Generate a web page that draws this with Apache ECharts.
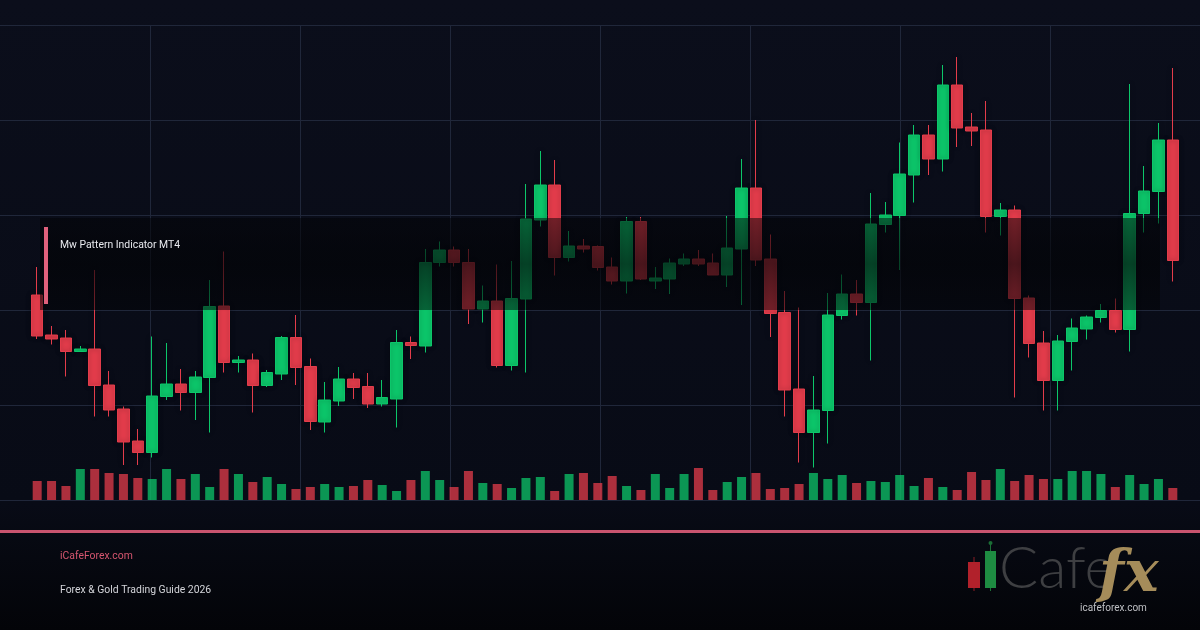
<!DOCTYPE html>
<html>
<head>
<meta charset="utf-8">
<title>Mw Pattern Indicator MT4</title>
<script src="https://cdn.jsdelivr.net/npm/echarts@6/dist/echarts.min.js"></script>
<style>
  html, body { margin: 0; padding: 0; background: #05070d; }
  #chart { width: 1200px; height: 630px; }
</style>
</head>
<body>
<div id="chart"></div>
<script>
// candle values (one entry per bar, left to right)
const opens = [
  1941.0, 1933.0, 1932.4, 1929.7, 1930.2, 1923.0, 1918.2, 1911.8, 1909.5, 1920.7,
  1923.2, 1921.5, 1924.5, 1938.8, 1927.5, 1928.0, 1922.9, 1925.2, 1932.5, 1926.7,
  1915.6, 1919.8, 1924.2, 1922.7, 1919.2, 1920.2, 1931.5, 1930.8, 1947.5, 1950.0,
  1947.5, 1938.2, 1939.8, 1926.9, 1940.2, 1956.0, 1963.0, 1948.5, 1950.8, 1950.7,
  1946.6, 1943.8, 1955.7, 1943.8, 1944.2, 1947.2, 1948.2, 1947.4, 1945.0, 1950.2,
  1962.4, 1948.2, 1937.5, 1922.2, 1913.5, 1917.9, 1936.9, 1941.2, 1939.5, 1955.1,
  1956.9, 1965.0, 1973.0, 1968.2, 1983.0, 1974.6, 1974.0, 1956.7, 1958.0, 1940.4,
  1931.4, 1923.9, 1931.7, 1934.2, 1936.5, 1937.9, 1934.1, 1957.3, 1961.7, 1972.0
]
const closes = [
  1932.8, 1932.2, 1929.7, 1930.2, 1922.9, 1918.0, 1911.6, 1909.5, 1920.8, 1923.2,
  1921.5, 1924.6, 1938.7, 1927.5, 1928.0, 1922.9, 1925.5, 1932.5, 1926.5, 1915.7,
  1920.0, 1924.2, 1922.5, 1919.2, 1920.5, 1931.5, 1930.9, 1947.5, 1950.0, 1947.5,
  1938.2, 1939.8, 1926.9, 1940.3, 1956.2, 1963.0, 1948.5, 1950.8, 1950.2, 1946.5,
  1943.8, 1955.7, 1944.2, 1944.4, 1947.4, 1948.2, 1947.2, 1945.0, 1950.4, 1962.4,
  1948.0, 1937.3, 1922.0, 1913.5, 1918.0, 1937.0, 1941.2, 1939.5, 1955.2, 1957.0,
  1965.2, 1973.0, 1968.2, 1983.0, 1974.4, 1973.8, 1956.7, 1958.0, 1940.3, 1931.3,
  1923.9, 1931.8, 1934.4, 1936.6, 1937.9, 1934.1, 1957.3, 1961.8, 1972.0, 1947.9
]
const lows = [
  1932.2, 1931.1, 1924.7, 1929.6, 1916.7, 1916.7, 1907.0, 1907.0, 1908.5, 1920.0,
  1917.9, 1916.0, 1913.5, 1925.5, 1925.5, 1917.5, 1922.6, 1924.0, 1923.0, 1914.0,
  1913.5, 1918.8, 1920.2, 1918.4, 1918.7, 1914.5, 1928.2, 1929.5, 1946.7, 1946.7,
  1935.2, 1935.5, 1926.5, 1925.9, 1925.5, 1954.7, 1944.9, 1947.7, 1949.5, 1945.9,
  1943.1, 1941.3, 1944.0, 1942.2, 1941.2, 1946.8, 1946.8, 1945.0, 1942.6, 1939.0,
  1946.8, 1932.6, 1916.7, 1907.5, 1906.5, 1911.3, 1936.1, 1936.9, 1927.9, 1953.5,
  1946.0, 1959.5, 1965.0, 1965.7, 1970.6, 1970.8, 1953.5, 1952.9, 1920.5, 1928.5,
  1917.9, 1917.9, 1925.9, 1932.1, 1935.5, 1933.5, 1929.7, 1953.5, 1955.3, 1943.7
]
const highs = [
  1946.6, 1934.8, 1934.0, 1930.8, 1946.0, 1925.8, 1918.7, 1914.2, 1932.7, 1931.4,
  1926.2, 1925.8, 1944.0, 1949.7, 1928.8, 1929.3, 1926.0, 1932.8, 1937.0, 1928.3,
  1923.6, 1926.6, 1925.4, 1925.4, 1924.0, 1934.0, 1932.7, 1950.2, 1951.7, 1950.7,
  1950.2, 1942.9, 1947.1, 1947.8, 1963.2, 1969.8, 1968.0, 1953.8, 1952.2, 1950.9,
  1948.5, 1956.6, 1956.6, 1946.6, 1948.3, 1949.3, 1950.0, 1949.3, 1956.8, 1968.2,
  1976.0, 1953.1, 1941.8, 1938.5, 1924.8, 1941.4, 1945.1, 1944.0, 1961.4, 1959.6,
  1971.5, 1975.0, 1975.0, 1987.0, 1988.6, 1977.4, 1979.8, 1959.4, 1958.9, 1940.9,
  1933.8, 1933.0, 1936.3, 1936.9, 1939.2, 1940.3, 1983.2, 1966.8, 1975.4, 1986.4
]
const volumes = [
  1900, 1900, 1400, 3100, 3100, 2700, 2600, 2200, 2100, 3100,
  2100, 2600, 1300, 3100, 2600, 1800, 2300, 1600, 1100, 1300,
  1600, 1300, 1400, 2000, 1500, 900, 2000, 2900, 2000, 1300,
  2900, 1700, 1600, 1200, 2200, 2300, 900, 2600, 2700, 1700,
  2400, 1400, 1000, 2600, 1200, 2600, 3200, 1000, 1800, 2300,
  2700, 1100, 1200, 1600, 2700, 2100, 2500, 1700, 1900, 1800,
  2500, 1400, 2200, 1300, 1000, 2800, 2000, 3100, 1900, 2500,
  2100, 2100, 2900, 2900, 2600, 1300, 2500, 1600, 2100, 1200
]

// bar labels: hourly bars, not shown on the picture
const categories = opens.map((o, i) => 'H' + (i + 1))

const UP = '#0cc66a'
const DOWN = '#e33c4b'
const GRID_LINE = '#20273a'
const SMALL_FONT = '10.4px Roboto, sans-serif'

const candles = opens.map((o, i) => [o, closes[i], lows[i], highs[i]])
const volumeBars = volumes.map((v, i) => ({
  value: v,
  itemStyle: { color: closes[i] >= opens[i] ? UP : DOWN }
}))

const hidden = { show: false }

const chart = echarts.init(document.getElementById('chart'))

chart.setOption({
  animation: false,
  backgroundColor: {
    type: 'linear', x: 0, y: 0, x2: 0, y2: 1,
    colorStops: [
      { offset: 0, color: '#0b0e1b' },
      { offset: 0.8, color: '#080b16' },
      { offset: 1, color: '#030408' }
    ]
  },
  grid: [
    { left: 30, top: 25, width: 1150, height: 475 },  // candles
    { left: 30, top: 460, width: 1150, height: 40 },  // volume
    { left: 0, top: 25, width: 1200, height: 475 }    // background grid lines
  ],
  xAxis: [
    { type: 'category', gridIndex: 0, data: categories, show: false },
    { type: 'category', gridIndex: 1, data: categories, show: false },
    {
      type: 'value', gridIndex: 2, min: 0, max: 1200, interval: 150,
      axisLine: hidden, axisTick: hidden, axisLabel: hidden,
      splitLine: { showMinLine: false, showMaxLine: false, lineStyle: { color: GRID_LINE, width: 1 } }
    }
  ],
  yAxis: [
    { type: 'value', gridIndex: 0, min: 1900, max: 1995, show: false },
    { type: 'value', gridIndex: 1, min: 0, max: 4000, show: false },
    {
      type: 'value', gridIndex: 2, min: 0, max: 5, interval: 1,
      axisLine: hidden, axisTick: hidden, axisLabel: hidden,
      splitLine: { lineStyle: { color: GRID_LINE, width: 1 } }
    }
  ],
  series: [
    {
      type: 'bar',
      xAxisIndex: 1,
      yAxisIndex: 1,
      data: volumeBars,
      barWidth: 9,
      itemStyle: { opacity: 0.75 },
      z: 2
    },
    {
      type: 'candlestick',
      xAxisIndex: 0,
      yAxisIndex: 0,
      data: candles,
      barWidth: 12,
      itemStyle: {
        color: UP,
        color0: DOWN,
        borderColor: UP,
        borderColor0: DOWN,
        borderWidth: 1,
        shadowBlur: 5,
        shadowColor: 'rgba(0,0,0,0.35)'
      },
      z: 3
    }
  ],
  graphic: [
    // dark label band laid over the middle of the chart
    {
      type: 'rect', z: 100,
      shape: { x: 40, y: 218, width: 1120, height: 92 },
      style: {
        fill: {
          type: 'linear', x: 0, y: 0, x2: 0, y2: 1,
          colorStops: [
            { offset: 0, color: 'rgba(2,3,6,0.5)' },
            { offset: 0.5, color: 'rgba(2,3,6,0.68)' },
            { offset: 1, color: 'rgba(2,3,6,0.5)' }
          ]
        }
      }
    },
    { type: 'rect', z: 101, shape: { x: 44, y: 227, width: 4, height: 77 }, style: { fill: '#e0617c' } },
    {
      type: 'text', z: 101, x: 60, y: 245,
      style: { text: 'Mw Pattern Indicator MT4', fill: '#e8e9ee', font: SMALL_FONT, verticalAlign: 'middle' }
    },
    // footer
    { type: 'rect', z: 100, shape: { x: 0, y: 530, width: 1200, height: 3 }, style: { fill: '#c9546f' } },
    {
      type: 'text', z: 101, x: 60, y: 556,
      style: { text: 'iCafeForex.com', fill: '#d6566f', font: SMALL_FONT, verticalAlign: 'middle' }
    },
    {
      type: 'text', z: 101, x: 60, y: 590,
      style: { text: 'Forex & Gold Trading Guide 2026', fill: '#d4d5da', font: SMALL_FONT, verticalAlign: 'middle' }
    },
    // logo
    { type: 'line', z: 101, shape: { x1: 974, y1: 557, x2: 974, y2: 591 }, style: { stroke: '#8a1c24', lineWidth: 1 } },
    { type: 'rect', z: 102, shape: { x: 968, y: 562, width: 12, height: 26 }, style: { fill: '#b1212b' } },
    { type: 'line', z: 101, shape: { x1: 990.5, y1: 544, x2: 990.5, y2: 591 }, style: { stroke: '#1b6e36', lineWidth: 1 } },
    { type: 'circle', z: 101, shape: { cx: 990.5, cy: 543, r: 2 }, style: { fill: '#1b6e36' } },
    { type: 'rect', z: 102, shape: { x: 985, y: 551, width: 11, height: 37 }, style: { fill: '#1e8c42' } },
    {
      type: 'text', z: 101, x: 999, y: 569,
      style: { text: 'Cafe', fill: '#3e3f42', font: '300 58px Lato, sans-serif', verticalAlign: 'middle' }
    },
    {
      type: 'text', z: 101, x: 1099, y: 576,
      style: { text: 'fx', fill: '#a58c5a', font: 'italic bold 58px "DejaVu Serif", serif', verticalAlign: 'middle' }
    },
    {
      type: 'text', z: 101, x: 1080, y: 608,
      style: { text: 'icafeforex.com', fill: '#bfc0c4', font: '10px Roboto, sans-serif', verticalAlign: 'middle' }
    }
  ]
})
</script>
</body>
</html>
